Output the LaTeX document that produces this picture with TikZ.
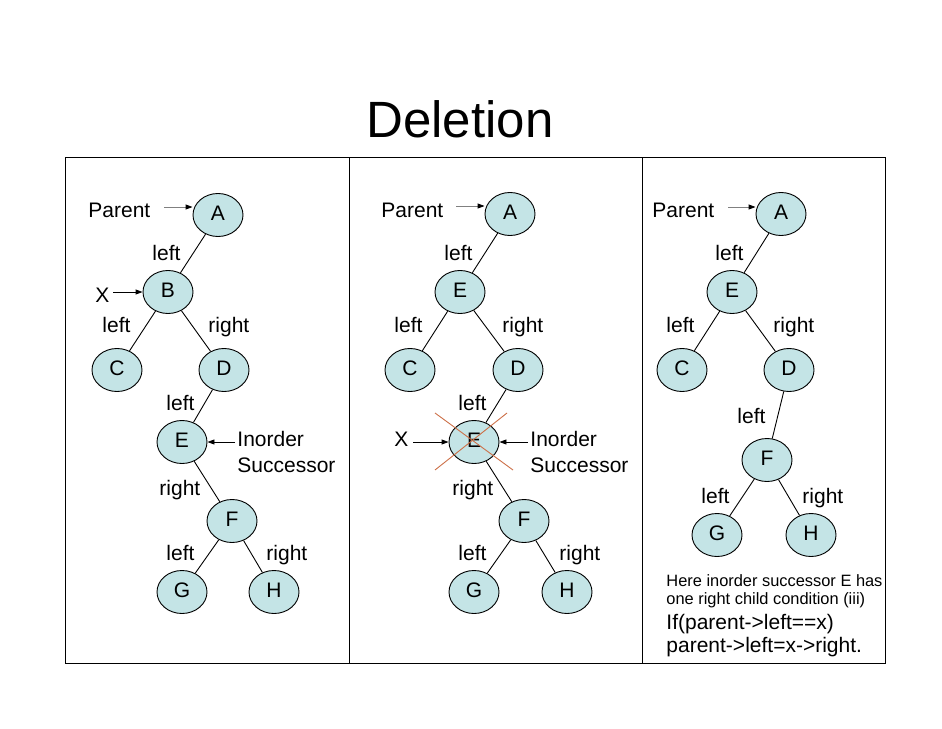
\documentclass[tikz,border=0pt]{standalone}
\usepackage{fontspec}
\setmainfont{Liberation Sans}
\usetikzlibrary{arrows.meta,shapes.geometric}

\definecolor{nodefill}{RGB}{196,228,230}
\definecolor{crosscol}{RGB}{204,112,72}

\tikzset{every picture/.style={line width=0.9pt}}
\tikzset{
  treenode/.style={ellipse, draw, fill=nodefill, minimum width=50pt, minimum height=43pt, inner sep=0pt, text height=15pt, text depth=4pt, font=\fontsize{21}{25}\selectfont},
  lbl/.style={anchor=base west, inner sep=0pt, font=\fontsize{21}{25}\selectfont},
  note/.style={anchor=base west, inner sep=0pt, font=\fontsize{16.4}{20}\selectfont},
  ptr/.style={-{Triangle[length=7pt,width=5pt]}},
  ptrgray/.style={draw=gray, -{Triangle[length=7pt,width=5pt,color=black]}},
}

\begin{document}
\begin{tikzpicture}[x=1pt,y=1pt,yscale=-1,xscale=1]
\useasboundingbox (0,0) rectangle (942,728);

% Title
\node[anchor=base west, inner sep=0pt, font=\fontsize{51}{60}\selectfont] (title) at (366,137) {Deletion};

%Shape: Rectangle
\draw[line width=1pt] (65,157) rectangle (885,663);
%Straight Lines
\draw[line width=1pt] (349,157) -- (349,663);
\draw[line width=1pt] (642,157) -- (642,663);

%%%% left panel
%Shape: Ellipse
\node[treenode] (lA) at (218,215) {A};
\node[treenode] (lB) at (168,292) {B};
\node[treenode] (lC) at (117,370) {C};
\node[treenode] (lD) at (224,370) {D};
\node[treenode] (lE) at (182,442) {E};
\node[treenode] (lF) at (232,521) {F};
\node[treenode] (lG) at (182,592) {G};
\node[treenode] (lH) at (274,592) {H};
%Straight Lines
\draw (lA) -- (lB);
\draw (lB) -- (lC);
\draw (lB) -- (lD);
\draw (lD) -- (lE);
\draw (lE) -- (lF);
\draw (lF) -- (lG);
\draw (lF) -- (lH);
% Text Node
\node[lbl] (lParent) at (88,217) {Parent};
\node[lbl] (lAB) at (152,260) {left};
\node[lbl] (lX) at (95,302) {X};
\node[lbl] (lBC) at (102,332) {left};
\node[lbl] (lBD) at (208,332) {right};
\node[lbl] (lDE) at (166,410) {left};
\node[lbl] (lInorder) at (237,446) {Inorder};
\node[lbl] (lSucc) at (237,472) {Successor};
\node[lbl] (lEF) at (159,495) {right};
\node[lbl] (lFG) at (166,560) {left};
\node[lbl] (lFH) at (266,560) {right};
%Arrows
\coordinate (lParentTail) at (164,207);
\coordinate (lXTail) at (113,292);
\coordinate (lInTail) at (235,442);
\draw[ptrgray] (lParentTail) -- (lA.west |- lParentTail);
\draw[ptr] (lXTail) -- (lB.west);
\draw[ptr] (lInTail) -- (lE.east);

%%%% middle panel
%Shape: Ellipse
\node[treenode] (mA) at (510,214) {A};
\node[treenode] (mE) at (460,292) {E};
\node[treenode] (mC) at (410,370) {C};
\node[treenode] (mD) at (518,370) {D};
\node[treenode] (mX) at (474,442) {E};
\node[treenode] (mF) at (524,521) {F};
\node[treenode] (mG) at (474,592) {G};
\node[treenode] (mH) at (567,592) {H};
%Straight Lines
\draw (mA) -- (mE);
\draw (mE) -- (mC);
\draw (mE) -- (mD);
\draw (mD) -- (mX);
\draw (mX) -- (mF);
\draw (mF) -- (mG);
\draw (mF) -- (mH);
% Text Node
\node[lbl] (mParent) at (381,217) {Parent};
\node[lbl] (mAE) at (444,260) {left};
\node[lbl] (mEC) at (394,332) {left};
\node[lbl] (mED) at (502,332) {right};
\node[lbl] (mDX) at (458,410) {left};
\node[lbl] (mXlbl) at (394,446) {X};
\node[lbl] (mInorder) at (530,446) {Inorder};
\node[lbl] (mSucc) at (530,472) {Successor};
\node[lbl] (mXF) at (452,495) {right};
\node[lbl] (mFG) at (458,560) {left};
\node[lbl] (mFH) at (559,560) {right};
%Arrows
\coordinate (mParentTail) at (456,206);
\coordinate (mXTail) at (413,442);
\coordinate (mInTail) at (528,442);
\draw[ptrgray] (mParentTail) -- (mA.west |- mParentTail);
\draw[ptr] (mXTail) -- (mX.west);
\draw[ptr] (mInTail) -- (mX.east);
%Cross
\coordinate (mCrossNW) at (435,413);
\coordinate (mCrossSE) at (513,470);
\coordinate (mCrossNE) at (507,413);
\coordinate (mCrossSW) at (435,470);
\draw[crosscol] (mCrossNW) -- (mCrossSE);
\draw[crosscol] (mCrossNE) -- (mCrossSW);

%%%% right panel
%Shape: Ellipse
\node[treenode] (rA) at (781,214) {A};
\node[treenode] (rE) at (732,292) {E};
\node[treenode] (rC) at (682,370) {C};
\node[treenode] (rD) at (789,370) {D};
\node[treenode] (rF) at (767,460) {F};
\node[treenode] (rG) at (717,535) {G};
\node[treenode] (rH) at (811,535) {H};
%Straight Lines
\draw (rA) -- (rE);
\draw (rE) -- (rC);
\draw (rE) -- (rD);
\draw (rD) -- (rF);
\draw (rF) -- (rG);
\draw (rF) -- (rH);
% Text Node
\node[lbl] (rParent) at (652,217) {Parent};
\node[lbl] (rAE) at (715,260) {left};
\node[lbl] (rEC) at (666,332) {left};
\node[lbl] (rED) at (773,332) {right};
\node[lbl] (rDF) at (737,423) {left};
\node[lbl] (rFG) at (701,503) {left};
\node[lbl] (rFH) at (802,503) {right};
\node[note] (rNote1) at (666,586) {Here inorder successor E has};
\node[note] (rNote2) at (666,604) {one right child condition (iii)};
\node[lbl] (rNote3) at (666,629) {If(parent->left==x)};
\node[lbl] (rNote4) at (666,652) {parent->left=x->right.};
%Arrows
\coordinate (rParentTail) at (728,207);
\draw[ptrgray] (rParentTail) -- (rA.west |- rParentTail);

\end{tikzpicture}
\end{document}
